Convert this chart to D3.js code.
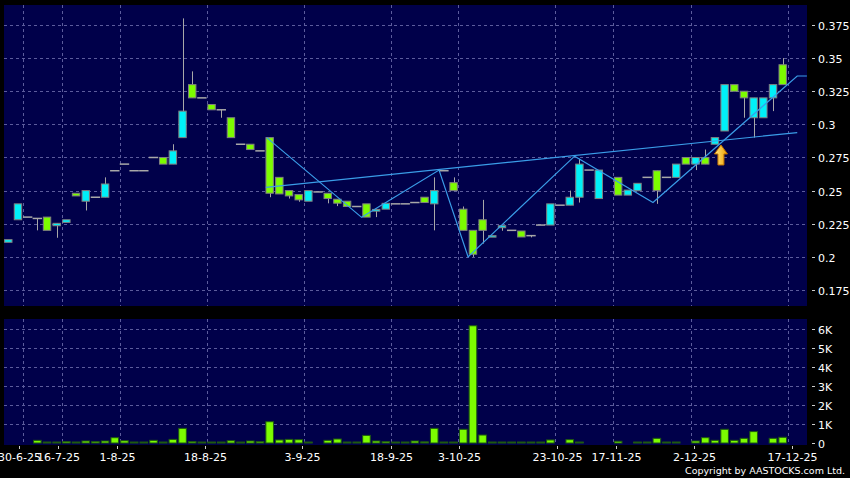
<!DOCTYPE html>
<html><head><meta charset="utf-8">
<script src="https://cdn.jsdelivr.net/npm/d3@7"></script>
<style>body{margin:0;background:#000;}svg{display:block}</style>
</head><body><svg id="c" width="850" height="478"></svg>
<script>
// slot index of each session (null = empty slot)
const opens  = [.211,.228,.230,.229,.230,.2235,.226,.248,.242,.245,.245,.265,.270,.265,.265,.275,.275,.270,.290,.330,.320,.315,.311,.305,.285,.285,.280,.290,.260,.250,.247,.242,.249,.248,.2435,.242,.238,.240,.2345,.236,.240,.240,.241,.245,.240,.265,.256,.236,.220,.228,.215,.222,.220,.2195,.216,.224,.224,.239,.239,.245,.2655,.244,null,.260,.2466,.2499,.260,.265,.260,.260,.275,.270,.275,.285,.295,.330,.325,.305,.305,.320,.345];
const highs  = [.213,.240,.230,.229,.230,.2253,.228,.248,.250,.245,.260,.265,.270,.265,.265,.275,.275,.285,.380,.340,.320,.315,.311,.305,.285,.285,.280,.290,.260,.250,.247,.250,.249,.248,.2435,.242,.238,.240,.2358,.2404,.240,.240,.241,.245,.260,.265,.260,.238,.220,.243,.216,.2235,.220,.2195,.216,.224,.240,.239,.250,.274,.2655,.2655,null,.260,.2504,.2555,.260,.265,.260,.270,.275,.275,.281,.290,.330,.330,.325,.320,.320,.330,.350];
const lows   = [.211,.228,.230,.220,.220,.2144,.226,.246,.235,.245,.245,.265,.270,.265,.265,.275,.270,.270,.290,.320,.320,.311,.305,.290,.285,.281,.280,.245,.2475,.244,.2416,.242,.249,.2404,.2383,.238,.238,.230,.230,.236,.240,.240,.241,.241,.220,.265,.250,.220,.200,.210,.215,.2197,.220,.215,.2147,.224,.224,.239,.239,.241,.2655,.244,null,.2466,.2466,.2499,.260,.240,.260,.260,.270,.2655,.270,.285,.295,.325,.305,.290,.305,.310,.330];
const closes = [.213,.240,.230,.229,.220,.2253,.228,.246,.250,.245,.255,.265,.270,.265,.265,.275,.270,.280,.310,.320,.320,.311,.311,.290,.285,.281,.280,.248,.2475,.246,.243,.250,.249,.244,.2405,.238,.238,.230,.2358,.2404,.240,.240,.241,.241,.250,.265,.250,.220,.202,.220,.216,.2235,.220,.215,.216,.224,.240,.239,.245,.270,.2655,.2655,null,.2466,.2504,.2555,.260,.250,.260,.270,.270,.275,.270,.290,.330,.325,.320,.320,.320,.330,.330];
const volumes = [0,0,0,140,30,30,70,30,105,70,105,280,120,30,30,140,30,190,770,70,30,30,50,120,50,105,70,1120,160,190,175,30,0,140,210,50,30,400,105,70,30,30,105,60,770,30,30,720,6170,420,30,30,50,50,30,50,160,0,175,50,0,0,0,90,0,50,50,245,30,30,0,105,280,140,720,140,245,600,0,245,300];

// x-axis ticks: slot index after which the date boundary falls
const tickSlots  = [1,5,11,20,30,39,46,56,62,70,80];
const tickLabels = ["30-6-25","16-7-25","1-8-25","18-8-25","3-9-25","18-9-25","3-10-25","23-10-25","17-11-25","2-12-25","17-12-25"];
const priceTicks = [0.175,0.2,0.225,0.25,0.275,0.3,0.325,0.35,0.375];
const volTicks = [0,1000,2000,3000,4000,5000,6000];

// pattern lines (slot index, price)
const zigzag = [[26.7,0.290],[36.5,0.2298],[44.5,0.2655],[47.5,0.200],[58.5,0.276],[66.6,0.241],[81.5,0.3365],[82.5,0.3365]];
const neckline = [[26.6,0.2525],[81.5,0.2938]];
const signalSlot = 73, signalPrice = 0.2852;

const candles = opens.map((o,i)=>({i,o,h:highs[i],l:lows[i],c:closes[i],v:volumes[i]})).filter(d=>d.o!==null);

const svg = d3.select("#c");
const font = "DejaVu Sans, Verdana, sans-serif";
const P = {l:4, r:807, t:5, b:306};
const V = {t:319, b:445};

const x = d3.scaleLinear().domain([0,80]).range([8.3,782.7]);
const xLab = d3.scaleLinear().domain([0,80]).range([4.15,786.7]);
const y = d3.scaleLinear().domain([0.1629,0.3901]).range([P.b,P.t]);
const yv = d3.scaleLinear().domain([0,6526]).range([443,V.t]);

// panels
svg.append("rect").attr("x",P.l).attr("y",P.t).attr("width",P.r-P.l).attr("height",P.b-P.t).attr("fill","#00004a");
svg.append("rect").attr("x",P.l).attr("y",V.t).attr("width",P.r-P.l).attr("height",V.b-V.t).attr("fill","#00004a");

const gridCol = "#5c5c9c";
const g = svg.append("g");
g.selectAll(".hp").data(priceTicks).join("line")
 .attr("x1",P.l).attr("x2",P.r).attr("y1",d=>Math.round(y(d))+0.5).attr("y2",d=>Math.round(y(d))+0.5)
 .attr("stroke",gridCol).attr("stroke-dasharray","3,3");
g.selectAll(".hv").data(volTicks.slice(1)).join("line")
 .attr("x1",P.l).attr("x2",P.r).attr("y1",d=>Math.round(yv(d))+0.5).attr("y2",d=>Math.round(yv(d))+0.5)
 .attr("stroke",gridCol).attr("stroke-dasharray","3,3");
tickSlots.forEach(s=>{
  const xx = Math.round(x(s+0.5))+0.5;
  [[P.t,P.b],[V.t,V.b]].forEach(([a,b])=>{
    g.append("line").attr("x1",xx).attr("x2",xx).attr("y1",a).attr("y2",b)
     .attr("stroke",gridCol).attr("stroke-dasharray","3,3");
  });
});

// right axes
const ax = svg.append("g").attr("font-family",font).attr("font-size",11).attr("fill","#fff");
priceTicks.forEach(p=>{
  const yy = Math.round(y(p))+0.5;
  ax.append("line").attr("x1",812).attr("x2",815).attr("y1",yy).attr("y2",yy).attr("stroke","#ccc");
  ax.append("text").attr("x",818).attr("y",yy+4).text(String(p));
});
volTicks.forEach(v=>{
  const yy = Math.round(yv(v))+0.5;
  ax.append("line").attr("x1",812).attr("x2",815).attr("y1",yy).attr("y2",yy).attr("stroke","#ccc");
  ax.append("text").attr("x",818).attr("y",yy+4).text(v===0?"0":(v/1000)+"K");
});
// bottom axis
tickSlots.forEach((s,k)=>{
  const xx = Math.round(xLab(s+0.5))+0.5;
  ax.append("line").attr("x1",xx).attr("x2",xx).attr("y1",446).attr("y2",449).attr("stroke","#ccc");
  ax.append("text").attr("x",xx).attr("y",461).attr("text-anchor","middle").text(tickLabels[k]);
});
ax.append("text").attr("x",845).attr("y",474).attr("text-anchor","end").attr("font-size",9.5).text("Copyright by AASTOCKS.com Ltd.");

// volume bars
svg.append("g").selectAll("rect").data(candles.filter(d=>d.v>0)).join("rect")
 .attr("x",d=>x(d.i)-3.8).attr("width",7.6)
 .attr("y",d=>Math.min(yv(d.v),442)).attr("height",d=>Math.max(443-yv(d.v),1))
 .attr("fill","#7cfc00").attr("stroke","#1f5a10").attr("stroke-width",1);

// candles
const cg = svg.append("g");
candles.forEach(d=>{
  const cx = Math.round(x(d.i))+0.5;
  if (d.h>Math.max(d.o,d.c) || d.l<Math.min(d.o,d.c)) {
    cg.append("line").attr("x1",cx).attr("x2",cx).attr("y1",y(d.h)).attr("y2",y(d.l)).attr("stroke","#a8a8a8");
  }
  if (d.o===d.c) {
    cg.append("line").attr("x1",x(d.i)-4.7).attr("x2",x(d.i)+4.7).attr("y1",y(d.o)).attr("y2",y(d.o))
      .attr("stroke","#a8a8a8").attr("stroke-width",1.5);
  } else {
    const top = y(Math.max(d.o,d.c)), bot = y(Math.min(d.o,d.c));
    cg.append("rect").attr("x",x(d.i)-3.7).attr("width",7.4)
      .attr("y",top).attr("height",Math.max(bot-top,1.5))
      .attr("fill",d.c>d.o?"#00f0f8":"#7cfc00").attr("stroke","#808080").attr("stroke-width",1);
  }
});

// pattern lines
const line = d3.line().x(d=>x(d[0])).y(d=>y(d[1]));
svg.append("path").attr("d",line(zigzag)).attr("fill","none").attr("stroke","#3a9de8").attr("stroke-width",1.2);
svg.append("path").attr("d",line(neckline)).attr("fill","none").attr("stroke","#3a9de8").attr("stroke-width",1.2);

// signal arrow
const defs = svg.append("defs");
const grad = defs.append("linearGradient").attr("id","ag").attr("x1",0).attr("x2",1).attr("y1",0).attr("y2",0);
grad.append("stop").attr("offset","0").attr("stop-color","#ffe680");
grad.append("stop").attr("offset","1").attr("stop-color","#f0a000");
const ax0 = x(signalSlot)+6, ay0 = y(signalPrice)+1;
svg.append("path")
 .attr("d",`M${ax0},${ay0} L${ax0+6.5},${ay0+9} L${ax0+3},${ay0+9} L${ax0+3},${ay0+20} L${ax0-3},${ay0+20} L${ax0-3},${ay0+9} L${ax0-6.5},${ay0+9} Z`)
 .attr("fill","url(#ag)").attr("stroke","#c07000").attr("stroke-width",1);
</script></body></html>
